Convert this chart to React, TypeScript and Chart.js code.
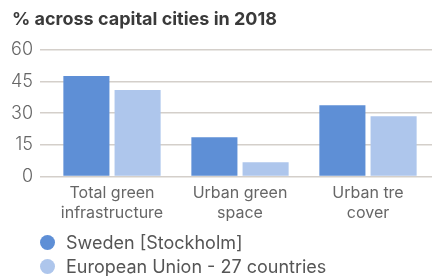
import React, { useEffect, useRef } from "react";
import { Chart, registerables } from "chart.js";

Chart.register(...registerables);

const categories: string[][] = [
  ["Total green", "infrastructure"],
  ["Urban green", "space"],
  ["Urban tre", "cover"],
];
const seriesNames = ["Sweden [Stockholm]", "European Union - 27 countries"];
const swedenValues = [47.6, 18.6, 33.8];
const euValues = [41.0, 6.7, 28.6];
const yTicks = [0, 15, 30, 45, 60];
const titleText = "% across capital cities in 2018";
const colors = ["#5E8FD6", "#AEC6EC"];

const FONT = "Inter, 'Noto Sans', sans-serif";

export default function App() {
  const ref = useRef<HTMLCanvasElement>(null);
  useEffect(() => {
    document.body.style.margin = "0";
    const chart = new Chart(ref.current!, {
      type: "bar",
      data: {
        labels: categories,
        datasets: [
          { label: seriesNames[0], data: swedenValues, backgroundColor: colors[0] },
          { label: seriesNames[1], data: euValues, backgroundColor: colors[1] },
        ],
      },
      options: {
        animation: false,
        responsive: false,
        maintainAspectRatio: false,
        layout: { padding: { left: 12, right: 0, top: 0, bottom: 0 } },
        plugins: {
          legend: { display: false },
          tooltip: { enabled: false },
          title: {
            display: true,
            text: titleText,
            align: "start",
            color: "#3a3a3a",
            font: { family: FONT, size: 18, weight: "bold" },
            padding: { top: 9, bottom: 19.4 },
          },
        },
        scales: {
          x: {
            grid: { display: false, drawTicks: false },
            border: { display: false },
            ticks: {
              color: "#666",
              font: { family: FONT, size: 16, lineHeight: 1.3 },
              padding: 6,
              maxRotation: 0,
              autoSkip: false,
            },
          },
          y: {
            min: 0,
            max: 60,
            afterBuildTicks: (s: any) => {
              s.ticks = yTicks.map((v) => ({ value: v }));
            },
            afterFit: (s: any) => {
              s.width = 36;
            },
            grid: { color: "#d4cfca", lineWidth: 1.5, tickLength: 8 },
            border: { display: false },
            ticks: {
              color: "#666",
              font: { family: FONT, size: 18, weight: 300 as any },
              padding: 7,
            },
          },
        },
      },
    });
    return () => chart.destroy();
  }, []);

  return (
    <div style={{ position: "fixed", left: 0, top: 0, width: 432, height: 276, background: "#fff" }}>
      <canvas ref={ref} width={432} height={230} style={{ display: "block" }} />
      <div style={{ position: "absolute", left: 40, top: 230, fontFamily: FONT, fontSize: 18, color: "#555" }}>
        {seriesNames.map((n, i) => (
          <div key={n} style={{ display: "flex", alignItems: "center", height: 24 }}>
            <span
              style={{
                display: "inline-block",
                width: 15,
                height: 15,
                borderRadius: "50%",
                background: colors[i],
                marginRight: 11,
              }}
            />
            <span>{n}</span>
          </div>
        ))}
      </div>
    </div>
  );
}
